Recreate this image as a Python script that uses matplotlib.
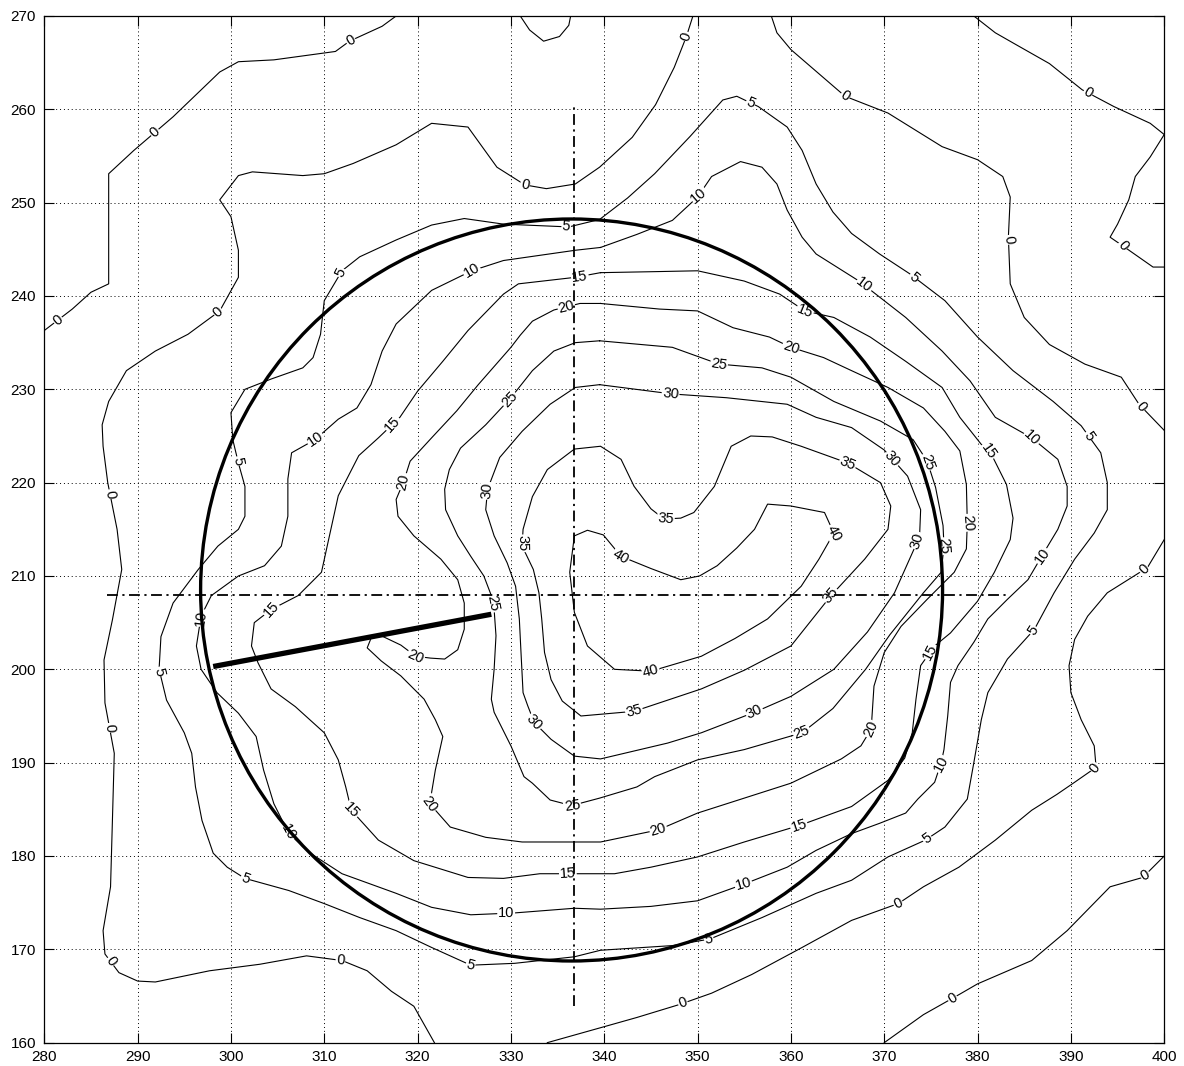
from __future__ import annotations

import matplotlib

matplotlib.use("Agg")
import matplotlib.pyplot as plt
import numpy as np
from matplotlib.patches import Circle

# ---- isolines: (x, y) vertices, one list per traced line -------------------

# zero level, boundary of the positive area
ZERO_WEST = [
    (349.5, 270), (348.8, 267.8), (347.5, 264.5), (345.5, 260.5), (343, 257),
    (339.5, 253.8), (336.9, 252), (333.8, 251.5), (331.5, 251.9), (328.5, 253.8),
    (325.4, 258.1), (321.5, 258.5), (317.7, 256.2), (313.1, 254.2), (310, 253.1),
    (307.7, 252.9), (302.3, 253.3), (300.8, 252.9), (298.8, 250.3), (300, 248.5),
    (300.8, 244.9), (300.8, 242), (298.8, 238.4), (295.4, 235.9), (291.9, 234.1),
    (288.8, 232), (286.9, 228.7), (286.2, 226.2), (286.3, 223.9), (286.8, 220),
    (287.8, 215), (288.3, 210.7), (287.3, 205.3), (286.4, 201), (286.5, 196.4),
    (287.5, 191), (287.3, 183.8), (287.1, 176.7), (286.3, 172), (286.5, 169.5),
    (288, 167.5), (290, 166.6), (291.9, 166.5), (297.7, 167.7), (303.1, 168.4),
    (308.1, 169.3), (311.9, 168.8), (314.6, 167.7), (317.2, 165.5), (319.6, 163.9),
    (321.8, 160),
]
ZERO_SOUTHEAST = [
    (333.9, 160), (339.6, 161.6), (343.5, 162.7), (348.1, 164.1), (351.5, 165.3),
    (355.8, 167.3), (361.2, 170.2), (366.5, 173.1), (371.5, 174.9), (374.2, 176.7),
    (378, 178.8), (381.9, 181.7), (385.8, 184.9), (388.5, 186.6), (390.4, 187.9),
    (392.7, 189.5), (392.5, 191.8), (391.1, 194.6), (390, 197.5), (389.8, 200.4),
    (390.4, 203.2), (391.8, 205.7), (393.9, 208.2), (398.2, 210.9), (400, 213.9),
]
ZERO_NORTHEAST = [
    (400, 225.6), (397.3, 228.4), (395.4, 231.3), (391.5, 232.7), (387.7, 234.8),
    (385, 237.7), (383.5, 241.3), (383.3, 246.3), (383.5, 250.6), (382.7, 252.8),
    (380, 254.6), (376.2, 256), (370.4, 259.6), (365.8, 261.4), (360, 266.4),
    (358.5, 268.2), (357.9, 270),
]
# zero level, edges of the unmeasured (flat) corners
ZERO_EDGE_NW = [
    (280, 236.3), (283, 238.6), (285, 240.4), (286.9, 241.3), (286.9, 253.1),
    (289.6, 255.6), (293.8, 259.2), (298.8, 264), (300.8, 265.1), (304.6, 265.3),
    (311.2, 266.2), (312.7, 267.3), (316.2, 268.9), (317.7, 270),
]
ZERO_EDGE_N = [
    (331, 270), (332, 268.5), (333.5, 267.3), (335.2, 267.8), (336.2, 269), (336.4, 270),
]
ZERO_EDGE_NE = [
    (379.6, 270), (381.9, 268.2), (384, 267), (387.7, 264.9), (391.2, 262.1),
    (394.6, 260.3), (398.5, 258.5), (400, 257.3), (398.5, 254.9), (396.9, 252.8),
    (396.2, 250.3), (395, 247.7), (394.2, 246.3), (395.8, 245.2), (398.8, 243.1),
    (400, 243.1),
]
ZERO_EDGE_SE = [
    (370, 160), (374.2, 163), (378.1, 165.2), (380, 166.3), (385.8, 168.8),
    (389.6, 172), (394.2, 176.7), (397.7, 177.7), (400, 180),
]

LEVEL_5 = [
    (336.2, 247.4), (339.5, 248.2), (342.5, 250.5), (345.4, 253.1), (349.2, 257.1),
    (352.7, 261), (354.2, 261.4), (356.5, 260.3), (359.6, 258.1), (361.2, 255.6),
    (362.7, 252), (364.5, 249), (366.5, 246.7), (369.5, 244.5), (372.7, 242.4),
    (376.5, 239.5), (380, 235.6), (383.8, 232), (388.1, 228.7), (391.1, 226.1),
    (393.2, 223.2), (393.9, 220), (393.9, 217.1), (392.5, 214.6), (390.4, 211.8),
    (388.2, 208.2), (386.1, 204.3), (383.2, 201.1), (381.1, 197.5), (380.4, 194.6),
    (379.6, 190), (378.9, 186.1), (376.5, 183.1), (374.4, 181.7), (370.4, 179.9),
    (366.5, 177.4), (362.7, 176), (356.9, 173.4), (351.3, 171.1), (347.3, 170.4),
    (339.6, 169.9), (336.8, 169.2), (330.4, 168.5), (325.7, 168.3), (321.5, 170.2),
    (317.7, 172), (313.8, 173.4), (310, 174.9), (306.2, 176.3), (301.5, 177.6),
    (299.6, 178.8), (298.1, 180.3), (296.9, 183.8), (296.2, 187.4), (295.8, 191),
    (295, 193.2), (293.1, 196.7), (292.3, 200), (292.5, 203.5), (293.8, 207.1),
    (296.5, 210.7), (298.6, 213.2), (300.8, 215), (301.5, 216.4), (301.5, 219.6),
    (300.8, 222.1), (300.2, 224.6), (300, 227.5), (301.5, 230), (304.3, 231.1),
    (307.7, 232.3), (308.8, 233.4), (309.6, 235.9), (310, 239.5), (311.9, 242.7),
    (313.8, 244.2), (317.7, 246), (321.5, 247.6), (325, 248.3), (329.2, 247.7),
    (336.2, 247.4),
]
LEVEL_10 = [
    (339.6, 245.2), (343.5, 246.6), (347.3, 248.1), (350, 250.6), (351.5, 252.8),
    (354.6, 254.4), (356.9, 253.8), (358.5, 252), (359.6, 249.2), (361.2, 246.3),
    (362.7, 244.5), (367.3, 241.6), (372.3, 237.7), (376.2, 234.1), (379.2, 230.9),
    (381.9, 227), (385.8, 224.8), (388.6, 222.5), (389.6, 219.6), (389.6, 217.5),
    (388.6, 215), (387.1, 212.5), (385.4, 209.6), (383.2, 207.5), (381.1, 205.4),
    (379.6, 202.9), (377.9, 200.4), (377.1, 198.6), (376.8, 195), (376.4, 191.4),
    (376.1, 190), (375.4, 187.9), (373.6, 186.1), (372.3, 184.6), (369.5, 183.5),
    (366.5, 182.4), (362.7, 180.6), (359.6, 178.8), (355, 177), (350, 175.2),
    (345, 174.6), (339.6, 174.3), (336.8, 174.4), (330.4, 173.9), (325.7, 173.7),
    (321.5, 174.5), (317.7, 176), (311.9, 178.1), (308.5, 180.3), (306.2, 182.4),
    (304.6, 185.6), (303.5, 189.2), (302.7, 192.8), (300.8, 195.3), (298.5, 197.5),
    (296.8, 200), (296.3, 202.5), (296.8, 205.7), (297.9, 207.9), (300.8, 210),
    (303.6, 211.1), (305.4, 213.2), (306.1, 216.4), (306.1, 220.4), (306.5, 223.2),
    (309, 224.6), (311.5, 226.8), (313.5, 228), (315, 230.5), (316.2, 234.1),
    (317.7, 237), (321.5, 240.6), (325.8, 242.7), (329.2, 243.8), (336.9, 244.9),
    (339.6, 245.2),
]
LEVEL_15 = [
    (339.6, 242.5), (345, 242.6), (350, 242.7), (355, 241.6), (358.8, 240.2),
    (361.5, 238.4), (364.6, 237.7), (368.5, 235.6), (372.3, 233), (376.2, 230.2),
    (378.1, 227), (380.4, 224.1), (381.5, 223), (383.1, 219.8), (383.8, 216.2),
    (383.5, 213.9), (381.8, 210.4), (380, 207.3), (377.1, 203.9), (375.4, 202.5),
    (373.9, 200.4), (373.4, 196.8), (373, 193.2), (372.2, 190.5), (370.4, 188.1),
    (366.5, 185.3), (361, 183.3), (355, 181.5), (350, 179.9), (345, 178.8),
    (341.1, 178.1), (336.1, 178.1), (333.1, 178.1), (329.2, 177.6), (325.4, 177.7),
    (319.6, 179.5), (315.8, 181.7), (312.9, 184.9), (312.3, 187.4), (311.5, 190.3),
    (310, 193.2), (306.9, 196), (304.3, 197.9), (302.9, 200.7), (302.2, 202.5),
    (302.5, 205), (304.3, 206.4), (307.2, 207.9), (309.7, 210.4), (310.4, 213.6),
    (311.5, 218.6), (313.7, 222.9), (315.8, 224.8), (318.1, 227), (320, 229.8),
    (322.7, 233), (325.4, 236.3), (329.2, 240.2), (330.8, 241.3), (336.9, 242),
    (339.6, 242.5),
]
LEVEL_20 = [
    (339.6, 239.2), (345.9, 238.6), (350, 238.4), (353.8, 236.6), (357.7, 235.6),
    (360, 234.5), (363.5, 233.4), (366.5, 232), (370.4, 230.2), (374.2, 228),
    (376.5, 225.5), (378.1, 223.4), (378.8, 219.8), (378.9, 215.7), (378.8, 212.9),
    (377.5, 210.4), (374.6, 207.5), (371.8, 204.6), (370, 201.8), (368.9, 198.2),
    (368.6, 193.6), (367.5, 191.8), (365.4, 190.4), (360, 187.8), (355, 186.2),
    (350, 184.6), (345.8, 182.8), (339.6, 181.5), (331.2, 181.5), (327.3, 182),
    (323.5, 183.1), (321.3, 185.6), (321.9, 189.2), (322.7, 192.8), (321.9, 194.6),
    (320.7, 196.8), (318.2, 199.3), (316.1, 200.9), (314.6, 202.3), (315, 203.3),
    (316.1, 203.6), (318.2, 202.6), (319.8, 201.4), (321.4, 201.2), (322.9, 201.1),
    (324.3, 202.1), (325, 204.3), (325, 207.1), (324.3, 209.6), (322.5, 211.8),
    (319.6, 214.3), (317.9, 216.4), (317.7, 218.2), (318.5, 220.1), (319.2, 222.3),
    (321.5, 224.8), (324.2, 227.7), (326.5, 230.5), (330, 234.5), (331, 235.8),
    (332.3, 237.3), (334.6, 238.5), (337.4, 239.2), (339.6, 239.2),
]
LEVEL_25 = [
    (339.5, 235.2), (347.3, 234.5), (352.3, 232.7), (356.9, 232.3), (360, 231.3),
    (364.6, 228.7), (369.6, 226.6), (373.1, 224.6), (374.6, 222.3), (375.5, 219.5),
    (376.3, 215.4), (376.4, 213.2), (376.1, 210.4), (374.2, 208.2), (370.6, 203.7),
    (368, 200), (364.5, 195.8), (361.2, 193.2), (355, 191.4), (350, 190.3),
    (345.4, 188.5), (343.5, 187.4), (339.5, 186.2), (336.5, 185.4), (334.2, 186),
    (332.3, 187.8), (331.4, 188.5), (330, 191.8), (328.2, 195.4), (327.9, 196.8),
    (328.2, 200), (328.4, 203.6), (328.2, 206.4), (327.9, 207.9), (327.1, 210),
    (325.7, 212.1), (324.3, 214.3), (323, 217.1), (322.9, 219.3), (323.4, 221.4),
    (324.6, 223.7), (327.3, 226.2), (330, 229.1), (332.3, 232), (334.6, 234.1),
    (336.9, 235), (339.5, 235.2),
]
LEVEL_30 = [
    (339.5, 230.5), (347.3, 229.5), (353.1, 229.1), (359.6, 228.4), (362.7, 227),
    (366.5, 225.9), (370, 223.5), (372.5, 220.7), (373.9, 217.1), (373.8, 214.6),
    (373.2, 212.9), (371.1, 208.2), (368.2, 204), (364.6, 200), (360, 197.1),
    (356.1, 195.4), (350.4, 193.2), (346.8, 192.1), (339.6, 190.4), (336.8, 190.7),
    (334.3, 192.5), (332.5, 194.3), (331.8, 196.1), (331.3, 197.5), (331.1, 201.4),
    (330.9, 205.4), (330.5, 208.9), (329.6, 211.4), (328.2, 214.3), (327.3, 217.1),
    (327.5, 219.3), (328.8, 222.7), (331.2, 225.5), (334.2, 228.4), (336.9, 230.2),
    (339.5, 230.5),
]
LEVEL_35 = [
    (336.8, 223.6), (339.6, 223.9), (341.8, 222.5), (343.2, 219.6), (345, 217.2),
    (346.4, 216.1), (348.2, 216.2), (349.6, 216.8), (351.8, 219.6), (353.6, 223.9),
    (355.7, 225), (358, 224.9), (361.1, 223.9), (366.1, 222.1), (369.6, 220),
    (370.7, 217.5), (370.4, 215), (367.9, 211.8), (364.3, 207.9), (360, 202.5),
    (355, 199.9), (350.4, 197.9), (343.2, 195.5), (337.5, 195), (335.5, 196.6),
    (334.3, 198.9), (333.6, 201.8), (333.3, 205.4), (333, 208.2), (332.4, 210.7),
    (331.2, 213.2), (331.3, 215), (332.3, 218.5), (333.9, 221.4), (336.8, 223.6),
]
LEVEL_40 = [
    (336.8, 214.3), (338.2, 214.9), (339.9, 214.4), (341.8, 212.1), (345, 210.8),
    (348.2, 209.6), (350.2, 210), (352.1, 211.1), (354.2, 213), (356.1, 215),
    (357.5, 217.7), (360, 217.5), (363.6, 216.8), (364.6, 214.6), (363, 211.8),
    (361.1, 208.9), (357.5, 205.4), (354, 203.3), (350.4, 201.4), (345, 199.8),
    (341.1, 200), (338.2, 202.5), (336.8, 206.1), (336.3, 210.4), (336.8, 214.3),
]

ISOLINES = {
    0: [ZERO_WEST, ZERO_SOUTHEAST, ZERO_NORTHEAST,
        ZERO_EDGE_NW, ZERO_EDGE_N, ZERO_EDGE_NE, ZERO_EDGE_SE],
    5: [LEVEL_5],
    10: [LEVEL_10],
    15: [LEVEL_15],
    20: [LEVEL_20],
    25: [LEVEL_25],
    30: [LEVEL_30],
    35: [LEVEL_35],
    40: [LEVEL_40],
}

# approximate label spots; each one is snapped onto its isoline
LABEL_SPOTS = {
    0: [(281.4, 237.5), (291.7, 257.7), (313.0, 267.0), (331.5, 251.9), (298.6, 238.3),
        (286.7, 218.7), (286.8, 193.7), (287.0, 168.6), (311.7, 168.6), (349.6, 267.5),
        (348.4, 164.3), (371.5, 174.9), (392.6, 189.4), (397.7, 210.9), (397.4, 228.0),
        (382.9, 246.0), (365.8, 261.4), (391.7, 261.5), (395.3, 245.0), (377.4, 164.6),
        (397.6, 178.3)],
    5: [(355.5, 260.3), (373.4, 242.3), (391.9, 225.0), (385.8, 204.3), (374.5, 182.0),
        (351.2, 171.1), (325.7, 168.4), (301.6, 177.8), (292.5, 199.8), (300.7, 222.3),
        (312.1, 242.3), (335.9, 246.9)],
    10: [(350.0, 250.9), (367.5, 240.7), (386.0, 225.0), (387.0, 212.1), (376.2, 189.8),
         (354.9, 177.0), (329.5, 173.6), (306.1, 182.5), (296.8, 205.5), (309.1, 224.6),
         (325.8, 242.7)],
    15: [(337.4, 242.0), (361.5, 238.4), (381.3, 223.5), (375.0, 201.8), (360.9, 183.1),
         (336.1, 178.1), (312.9, 184.9), (304.3, 206.4), (317.2, 226.4)],
    20: [(336.0, 238.6), (360.0, 234.5), (378.9, 215.7), (368.7, 193.5), (345.8, 182.8),
         (321.3, 185.6), (319.8, 201.4), (318.5, 220.1)],
    25: [(330.0, 228.8), (352.3, 232.7), (374.6, 222.2), (376.4, 213.2), (361.2, 193.1),
         (336.6, 185.3), (327.9, 207.0)],
    30: [(347.1, 229.5), (370.7, 222.4), (373.5, 213.8), (356.1, 195.4), (332.5, 194.3),
         (327.8, 219.1)],
    35: [(346.6, 216.1), (366.1, 222.1), (364.3, 207.9), (343.2, 195.5), (331.2, 213.5)],
    40: [(341.8, 212.1), (364.6, 214.6), (345.0, 199.8)],
}

# overlay geometry
CIRCLE_CENTER = (336.5, 208.5)
CIRCLE_RADIUS = 39.75
CROSS_X = 336.8
CROSS_X_SPAN = (163.9, 260.7)
CROSS_Y = 208.0
CROSS_Y_SPAN = (286.7, 383.3)
RADIUS_SEG_X = [298.1, 327.9]
RADIUS_SEG_Y = [200.3, 205.9]

X_LIMITS = (280, 400)
Y_LIMITS = (160, 270)
X_TICKS = list(range(280, 401, 10))
Y_TICKS = list(range(160, 271, 10))


def _snap_to_line(lines: list, spot: tuple[float, float]) -> tuple[np.ndarray, float]:
    """Closest point on any of the polylines, plus the local direction angle."""
    p = np.asarray(spot, dtype=float)
    best = None
    for line in lines:
        pts = np.asarray(line, dtype=float)
        a, b = pts[:-1], pts[1:]
        ab = b - a
        t = np.clip(((p - a) * ab).sum(1) / np.maximum((ab ** 2).sum(1), 1e-9), 0, 1)
        proj = a + ab * t[:, None]
        d = np.hypot(*(proj - p).T)
        k = int(np.argmin(d))
        if best is None or d[k] < best[0]:
            i0 = max(k - 1, 0)
            i1 = min(k + 2, len(pts) - 1)
            direction = pts[i1] - pts[i0]
            best = (d[k], proj[k], direction)
    _, point, direction = best
    angle = np.degrees(np.arctan2(direction[1], direction[0]))
    if angle > 90:
        angle -= 180
    elif angle <= -90:
        angle += 180
    return point, angle


def main() -> None:
    plt.rcParams["font.family"] = ["Liberation Sans", "DejaVu Sans"]

    fig = plt.figure(figsize=(11.84, 10.66), dpi=100)
    ax = fig.add_axes([0.0374, 0.0219, 0.9459, 0.9631])
    ax.set_xlim(*X_LIMITS)
    ax.set_ylim(*Y_LIMITS)

    for level, lines in ISOLINES.items():
        for line in lines:
            xs, ys = zip(*line)
            ax.plot(xs, ys, color="black", lw=0.8, zorder=2)

    for level, spots in LABEL_SPOTS.items():
        for spot in spots:
            (x, y), angle = _snap_to_line(ISOLINES[level], spot)
            ax.text(
                x, y, str(level), fontsize=10.5, ha="center", va="center",
                rotation=angle, rotation_mode="anchor", transform_rotates_text=True,
                bbox=dict(boxstyle="square,pad=0.05", fc="white", ec="none"),
                zorder=3,
            )

    ax.add_patch(Circle(CIRCLE_CENTER, CIRCLE_RADIUS, fill=False, ec="black", lw=2.4, zorder=5))
    ax.plot([CROSS_X, CROSS_X], CROSS_X_SPAN, color="black", lw=1.3,
            dashes=(6, 2.5, 1.2, 2.5), zorder=4)
    ax.plot(CROSS_Y_SPAN, [CROSS_Y, CROSS_Y], color="black", lw=1.3,
            dashes=(6, 2.5, 1.2, 2.5), zorder=4)
    ax.plot(RADIUS_SEG_X, RADIUS_SEG_Y, color="black", lw=3.8, solid_capstyle="butt", zorder=6)

    ax.set_xticks(X_TICKS)
    ax.set_yticks(Y_TICKS)
    ax.tick_params(direction="in", length=7, width=0.8, top=True, right=True,
                   labelsize=11)
    ax.tick_params(axis="x", pad=5)
    ax.tick_params(axis="y", pad=6)
    ax.grid(True, color="black", linestyle=(0, (1, 3)), lw=0.7)
    ax.set_axisbelow(True)
    for spine in ax.spines.values():
        spine.set_linewidth(0.9)

    fig.savefig("out.png", dpi=100, facecolor="white")
    plt.close(fig)


if __name__ == "__main__":
    main()
